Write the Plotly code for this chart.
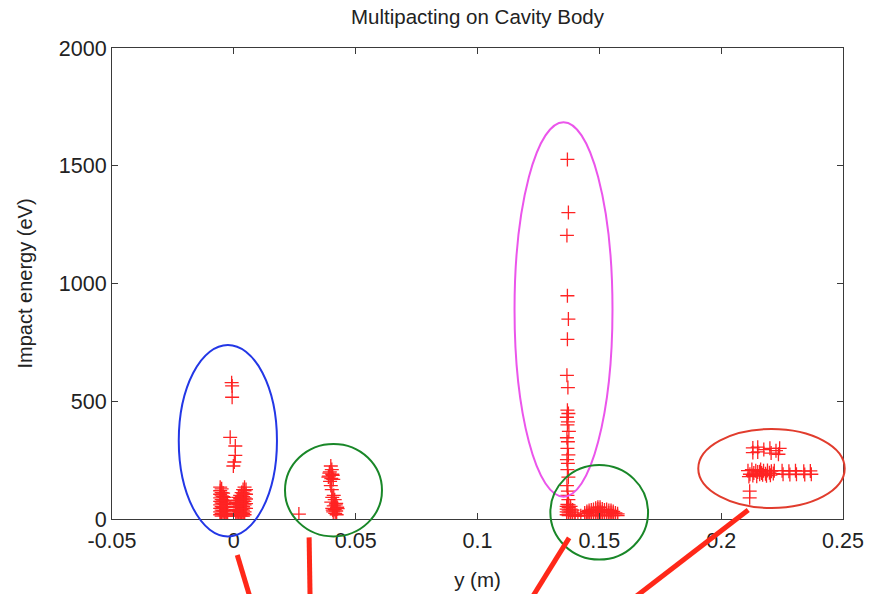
import plotly.graph_objects as go

# Impact positions (m) and impact energies (eV), grouped by region of the cavity
iris_y = [-0.0009, -0.0007, -0.0007, -0.0015, 0.0006, 0.0006, 0.0002, -0.0002,
          -0.0056, -0.0056, -0.0056, -0.0056, -0.0056, -0.0056, -0.0056, -0.0056, -0.0056,
          -0.0050, -0.0050, -0.0050, -0.0050, -0.0050, -0.0050, -0.0050, -0.0050, -0.0050,
          -0.0044, -0.0044, -0.0044, -0.0044, -0.0044, -0.0044, -0.0044,
          -0.0038, -0.0038, -0.0038, -0.0038, -0.0038, -0.0038,
          -0.0032, -0.0032, -0.0032, -0.0032, -0.0032, -0.0032,
          -0.0026, -0.0026, -0.0026, -0.0026, -0.0026,
          0.0008, 0.0008, 0.0008, 0.0008, 0.0008,
          0.0014, 0.0014, 0.0014, 0.0014, 0.0014,
          0.0020, 0.0020, 0.0020, 0.0020, 0.0020, 0.0020,
          0.0026, 0.0026, 0.0026, 0.0026, 0.0026, 0.0026, 0.0026,
          0.0032, 0.0032, 0.0032, 0.0032, 0.0032, 0.0032, 0.0032, 0.0032,
          0.0038, 0.0038, 0.0038, 0.0038, 0.0038, 0.0038, 0.0038, 0.0038, 0.0038,
          0.0044, 0.0044, 0.0044, 0.0044, 0.0044, 0.0044, 0.0044, 0.0044, 0.0044,
          0.0050, 0.0050, 0.0050, 0.0050, 0.0050]
iris_e = [579, 565, 517, 347, 310, 270, 242, 225,
          135, 120, 105, 90, 75, 60, 45, 30, 18,
          128, 112, 98, 82, 68, 52, 38, 24, 12,
          110, 95, 80, 65, 50, 35, 20,
          92, 76, 62, 48, 34, 18,
          78, 64, 50, 36, 22, 12,
          66, 52, 38, 24, 12,
          70, 55, 40, 25, 12,
          80, 65, 50, 35, 20,
          92, 78, 62, 48, 32, 16,
          100, 86, 72, 56, 42, 28, 14,
          112, 98, 84, 70, 55, 40, 26, 12,
          125, 110, 95, 80, 66, 52, 38, 24, 12,
          135, 120, 105, 90, 75, 60, 45, 30, 18,
          125, 105, 85, 65, 45]

wall_y = [0.0267,
          0.0398, 0.0402, 0.0392, 0.0406, 0.0388, 0.0400, 0.0408, 0.0395, 0.0402,
          0.0394, 0.0404, 0.0390, 0.0398,
          0.0404, 0.0414, 0.0400, 0.0420, 0.0410, 0.0424, 0.0404, 0.0414, 0.0420, 0.0408,
          0.0416, 0.0422, 0.0410, 0.0418, 0.0406, 0.0426]
wall_e = [21,
          225, 210, 195, 185, 178, 172, 168, 160, 125,
          200, 190, 182, 142,
          92, 82, 72, 66, 56, 50, 45, 40, 34, 30,
          24, 18, 100, 60, 38, 44]

equator_y = [0.1369, 0.1373, 0.1367, 0.1369, 0.1373, 0.1369, 0.1367, 0.1371,
             0.1369, 0.1373, 0.1367, 0.1371, 0.1369, 0.1375, 0.1367, 0.1371,
             0.1369, 0.1373, 0.1367, 0.1371, 0.1369, 0.1373, 0.1367, 0.1371,
             0.1369, 0.1373, 0.1369]
equator_e = [1527, 1301, 1204, 948, 849, 763, 610, 558,
             462, 448, 432, 412, 400, 372, 345, 328,
             300, 272, 252, 236, 210, 178, 142, 118,
             100, 82, 62]

flat_y = [0.1366, 0.1366, 0.1366, 0.1366,
          0.1374, 0.1374, 0.1374, 0.1374, 0.1374,
          0.1382, 0.1382, 0.1382, 0.1382,
          0.1390, 0.1390, 0.1390,
          0.1400, 0.1400, 0.1412, 0.1424,
          0.1440, 0.1440,
          0.1449, 0.1449, 0.1449,
          0.1458, 0.1458, 0.1458,
          0.1467, 0.1467, 0.1467,
          0.1476, 0.1476, 0.1476,
          0.1485, 0.1485, 0.1485, 0.1485,
          0.1494, 0.1494, 0.1494, 0.1494,
          0.1503, 0.1503, 0.1503, 0.1503,
          0.1512, 0.1512, 0.1512,
          0.1521, 0.1521, 0.1521,
          0.1530, 0.1530, 0.1530,
          0.1539, 0.1539, 0.1539,
          0.1548, 0.1548, 0.1548,
          0.1557, 0.1557, 0.1557,
          0.1566, 0.1566,
          0.1575, 0.1575]
flat_e = [18, 30, 42, 54,
          14, 26, 38, 50, 60,
          18, 30, 42, 54,
          14, 26, 38,
          12, 20, 12, 14,
          15, 25,
          14, 24, 32,
          16, 28, 36,
          14, 26, 38,
          16, 28, 40,
          14, 26, 38, 46,
          16, 30, 42, 50,
          14, 28, 40, 50,
          16, 30, 42,
          14, 26, 38,
          16, 28, 40,
          14, 26, 36,
          16, 28, 36,
          14, 24, 32,
          16, 26,
          14, 22]

beam_y = [0.2130, 0.2130, 0.2150, 0.2150, 0.2175, 0.2200, 0.2205, 0.2225, 0.2235, 0.2240,
          0.2110, 0.2118, 0.2126, 0.2134, 0.2142, 0.2150, 0.2158, 0.2158, 0.2162, 0.2166,
          0.2174, 0.2182, 0.2190, 0.2198, 0.2206, 0.2214, 0.2218,
          0.2114, 0.2130, 0.2146, 0.2170, 0.2186, 0.2202,
          0.2250, 0.2254, 0.2278, 0.2282, 0.2305, 0.2309, 0.2339, 0.2343, 0.2366, 0.2370,
          0.2117, 0.2117]
beam_e = [302, 282, 305, 285, 295, 300, 280, 290, 275, 300,
          205, 190, 210, 195, 205, 200, 201, 190, 210, 195,
          205, 192, 206, 196, 203, 193, 205,
          180, 185, 182, 188, 184, 186,
          205, 190, 203, 189, 205, 190, 203, 189, 204, 190,
          118, 90]

y_pos = iris_y + wall_y + equator_y + flat_y + beam_y
energy = iris_e + wall_e + equator_e + flat_e + beam_e

x_range = [-0.05, 0.25]
e_range = [0, 2000]
x_ticks = [-0.05, 0, 0.05, 0.1, 0.15, 0.2, 0.25]
x_tick_text = ["-0.05", "0", "0.05", "0.1", "0.15", "0.2", "0.25"]
e_ticks = [0, 500, 1000, 1500, 2000]


def to_paper(x, e):
    return ((x - x_range[0]) / (x_range[1] - x_range[0]),
            (e - e_range[0]) / (e_range[1] - e_range[0]))


# Highlight ellipses: (y min, y max, energy min, energy max, colour)
ellipses = [
    (-0.0226, 0.0177, -74, 739, "rgb(35,55,230)"),
    (0.0210, 0.0608, -74, 319, "rgb(25,135,40)"),
    (0.1152, 0.1554, 95, 1685, "rgb(235,85,235)"),
    (0.1299, 0.1700, -172, 229, "rgb(25,135,40)"),
    (0.1906, 0.2507, 47, 382, "rgb(225,60,45)"),
]

# Pointer strokes running off the bottom of the figure: (y0, e0, y1, e1)
pointers = [
    (0.0014, -153, 0.0070, -345),
    (0.0309, -78, 0.0313, -345),
    (0.1376, -80, 0.1217, -345),
    (0.2111, 38, 0.1630, -345),
]

shapes = []
for x0, x1, e0, e1, col in ellipses:
    px0, py0 = to_paper(x0, e0)
    px1, py1 = to_paper(x1, e1)
    shapes.append(dict(type="circle", xref="paper", yref="paper",
                       x0=px0, x1=px1, y0=py0, y1=py1,
                       line=dict(color=col, width=2), layer="above"))
for x0, e0, x1, e1 in pointers:
    px0, py0 = to_paper(x0, e0)
    px1, py1 = to_paper(x1, e1)
    shapes.append(dict(type="line", xref="paper", yref="paper",
                       x0=px0, x1=px1, y0=py0, y1=py1,
                       line=dict(color="rgb(255,40,25)", width=5), layer="above"))

fig = go.Figure(go.Scatter(
    x=y_pos, y=energy, mode="markers",
    marker=dict(symbol="cross-thin", size=10, color="rgb(255,35,35)",
                line=dict(color="rgb(255,35,35)", width=1.3)),
    hoverinfo="x+y", showlegend=False,
))

font = "Liberation Sans, Arial, Helvetica, sans-serif"
axis_common = dict(showline=True, linecolor="#3a3a3a", linewidth=1, mirror="ticks",
                   ticks="inside", ticklen=6, tickcolor="#3a3a3a", showgrid=False,
                   zeroline=False, automargin=False,
                   tickfont=dict(family=font, size=21.5, color="#222"))

fig.update_layout(
    width=880, height=594,
    margin=dict(l=112, r=37, t=48, b=75),
    paper_bgcolor="white", plot_bgcolor="white",
    title=dict(text="Multipacting on Cavity Body", x=(112 + 843) / 2 / 880, xanchor="center",
               y=1 - 17 / 594, yanchor="middle", yref="container", automargin=False,
               font=dict(family=font, size=20.5, color="#222")),
    xaxis=dict(range=x_range, tickvals=x_ticks, ticktext=x_tick_text,
               ticklabelstandoff=2,
               title=dict(text="y (m)", font=dict(family=font, size=20.5, color="#222"),
                          standoff=20),
               **axis_common),
    yaxis=dict(range=e_range, tickvals=e_ticks,
               title=dict(text="Impact energy (eV)", font=dict(family=font, size=20, color="#222"),
                          standoff=20),
               **axis_common),
    shapes=shapes,
)

fig.write_html("out.html")
